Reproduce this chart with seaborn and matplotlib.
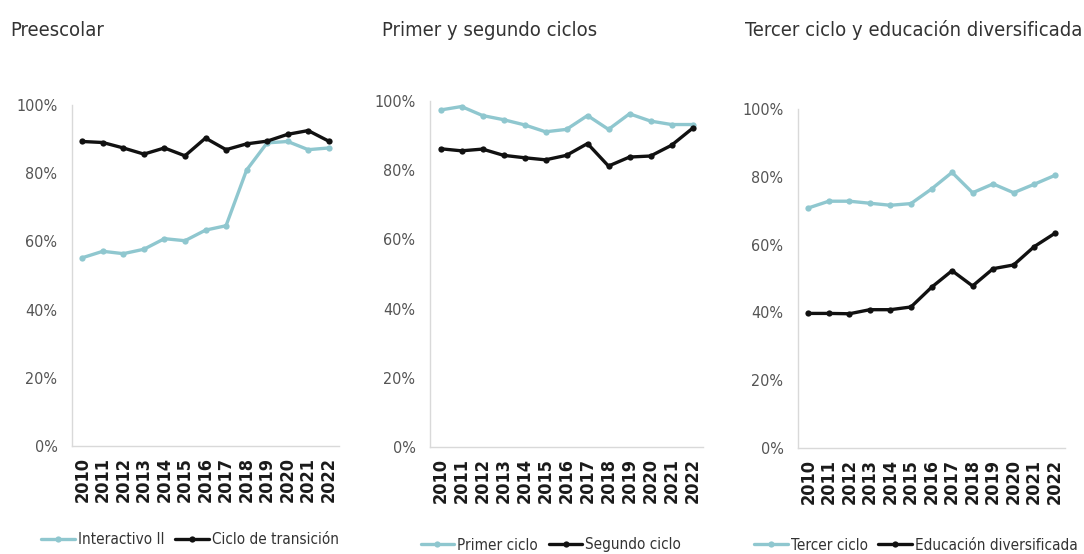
import matplotlib
matplotlib.use("Agg")
import numpy as np
import pandas as pd
import seaborn as sns
import matplotlib.pyplot as plt
from matplotlib.ticker import FuncFormatter

years = list(range(2010, 2023))

# Preescolar
interactivo_ii = [55.2, 57.1, 56.4, 57.7, 60.8, 60.2, 63.3, 64.6, 80.9, 88.9, 89.3, 86.9, 87.4]
ciclo_transicion = [89.3, 89.0, 87.4, 85.6, 87.4, 85.1, 90.3, 86.9, 88.6, 89.4, 91.4, 92.5, 89.4]

# Primer y segundo ciclos
primer_ciclo = [97.4, 98.4, 95.8, 94.6, 93.1, 91.1, 91.8, 95.8, 91.8, 96.3, 94.2, 93.2, 93.2]
segundo_ciclo = [86.2, 85.6, 86.1, 84.3, 83.6, 83.0, 84.3, 87.7, 81.2, 83.8, 84.1, 87.2, 92.1]

# Tercer ciclo y educación diversificada
tercer_ciclo = [70.8, 72.8, 72.8, 72.2, 71.6, 72.1, 76.4, 81.3, 75.3, 77.9, 75.3, 77.8, 80.4]
educ_diversificada = [39.7, 39.7, 39.6, 40.8, 40.8, 41.6, 47.4, 52.3, 47.8, 52.9, 54.0, 59.4, 63.3]

panels = [
    ("Preescolar", "Interactivo II", interactivo_ii,
     "Ciclo de transición", ciclo_transicion),
    ("Primer y segundo ciclos", "Primer ciclo", primer_ciclo,
     "Segundo ciclo", segundo_ciclo),
    ("Tercer ciclo y educación diversificada", "Tercer ciclo", tercer_ciclo,
     "Educación diversificada", educ_diversificada),
]

LIGHT = "#8fc7cf"
DARK = "#111111"
W, H = 1084, 554

sns.set_theme(style="white")
plt.rcParams["font.family"] = ["DejaVu Sans"]
plt.rcParams["font.stretch"] = "condensed"

fig = plt.figure(figsize=(W / 100, H / 100), dpi=100)

# axes boxes in pixels: left, right, top (100%), bottom (0%)
boxes = [(72, 339, 105, 446), (430, 703, 101, 447), (798, 1065, 109, 448)]
title_x = [10, 382, 745]
legend_pos = [(190, 540), (551, 545), (916, 545)]

for (title, n1, v1, n2, v2), (l, r, t, b), tx, (lx, ly) in zip(panels, boxes, title_x, legend_pos):
    ax = fig.add_axes([l / W, 1 - b / H, (r - l) / W, (b - t) / H])
    df = pd.DataFrame({
        "year": years * 2,
        "value": v1 + v2,
        "serie": [n1] * len(years) + [n2] * len(years),
    })
    sns.lineplot(data=df, x="year", y="value", hue="serie",
                 palette={n1: LIGHT, n2: DARK}, marker="o",
                 markersize=4.5, markeredgewidth=0, linewidth=2.4, ax=ax)
    ax.set_xlim(2009.5, 2022.5)
    ax.set_ylim(0, 100)
    ax.set_yticks(np.arange(0, 101, 20))
    ax.yaxis.set_major_formatter(FuncFormatter(lambda v, p: "{:.0f}%".format(v)))
    ax.set_xticks(years)
    ax.set_xticklabels([str(y) for y in years], rotation=90,
                       fontweight="bold", fontsize=13, color="#1a1a1a")
    ax.tick_params(axis="y", labelsize=11.5, colors="#555555", length=0, pad=10.5)
    ax.tick_params(axis="x", length=0, pad=8)
    ax.set_xlabel("")
    ax.set_ylabel("")
    for side in ["top", "right"]:
        ax.spines[side].set_visible(False)
    for side in ["left", "bottom"]:
        ax.spines[side].set_color("#d9d9d9")
        ax.spines[side].set_linewidth(1.0)
    ax.grid(False)
    ax.legend(loc="center", bbox_to_anchor=(lx / W, 1 - ly / H),
              bbox_transform=fig.transFigure, ncol=2, frameon=False,
              fontsize=11, handlelength=2.2, handletextpad=0.2,
              columnspacing=0.7, labelcolor="#333333")
    fig.text(tx / W, 1 - 30 / H, title, fontsize=14.5, color="#333333",
             ha="left", va="center")

fig.savefig("out.png", dpi=100)
